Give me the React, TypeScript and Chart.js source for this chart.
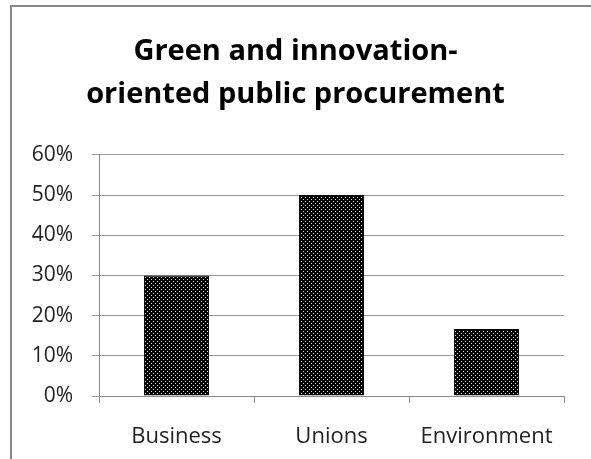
import React, { useEffect, useRef } from "react";
import { Chart, registerables } from "chart.js";

Chart.register(...registerables);

const categories = ["Business", "Unions", "Environment"];
const values = [0.3, 0.5, 0.167];
const titleLines = ["Green and innovation-", "oriented public procurement"];

function makePattern(): CanvasPattern | string {
  const c = document.createElement("canvas");
  c.width = 4;
  c.height = 4;
  const ctx = c.getContext("2d");
  if (!ctx) return "#000";
  ctx.fillStyle = "#000";
  ctx.fillRect(0, 0, 4, 4);
  ctx.fillStyle = "#d8d8d8";
  ctx.fillRect(1, 1, 1, 1);
  ctx.fillRect(3, 3, 1, 1);
  const p = ctx.createPattern(c, "repeat");
  return p || "#000";
}

export default function App() {
  const ref = useRef<HTMLCanvasElement | null>(null);
  useEffect(() => {
    if (!ref.current) return;
    const font = "'Open Sans', 'Noto Sans', sans-serif";
    const chart = new Chart(ref.current, {
      type: "bar",
      data: {
        labels: categories,
        datasets: [
          {
            data: values,
            backgroundColor: makePattern() as any,
            borderColor: "#000",
            borderWidth: 1,
            categoryPercentage: 1,
            barPercentage: 0.42,
          },
        ],
      },
      options: {
        animation: false,
        responsive: false,
        layout: { padding: { left: 27, right: 27, top: 0, bottom: 0 } },
        plugins: {
          legend: { display: false },
          tooltip: { enabled: false },
          title: {
            display: true,
            text: titleLines,
            color: "#000",
            font: { family: font, size: 29, weight: "bold", lineHeight: 1.48 },
            padding: { top: 30, bottom: 39 },
          },
        },
        scales: {
          x: {
            grid: {
              display: true,
              drawOnChartArea: false,
              drawTicks: true,
              tickLength: 7,
              offset: true,
              color: "#888",
            },
            border: { display: true, color: "#888", width: 1 },
            ticks: {
              color: "#222",
              font: { family: font, size: 22 },
              padding: 21,
            },
            afterFit: (s: any) => {
              s.height = 63;
            },
          },
          y: {
            min: 0,
            max: 0.6,
            ticks: {
              stepSize: 0.1,
              color: "#222",
              font: { family: font, size: 21 },
              padding: 19,
              callback: (v: any) => Math.round(Number(v) * 100) + "%",
            },
            grid: { color: "#999", tickLength: 7, lineWidth: 1 },
            border: { display: true, color: "#888", width: 1 },
            afterFit: (s: any) => {
              s.width = 72;
            },
          },
        },
      },
    });
    return () => chart.destroy();
  }, []);
  return (
    <div>
      <canvas
        ref={ref}
        width={591}
        height={459}
        style={{ position: "fixed", left: 0, top: 0, width: 591, height: 459 }}
      />
      <div
        style={{
          position: "fixed",
          left: 10,
          top: 5,
          width: 700,
          height: 600,
          borderLeft: "2px solid #888",
          borderTop: "2px solid #888",
          pointerEvents: "none",
        }}
      />
    </div>
  );
}
